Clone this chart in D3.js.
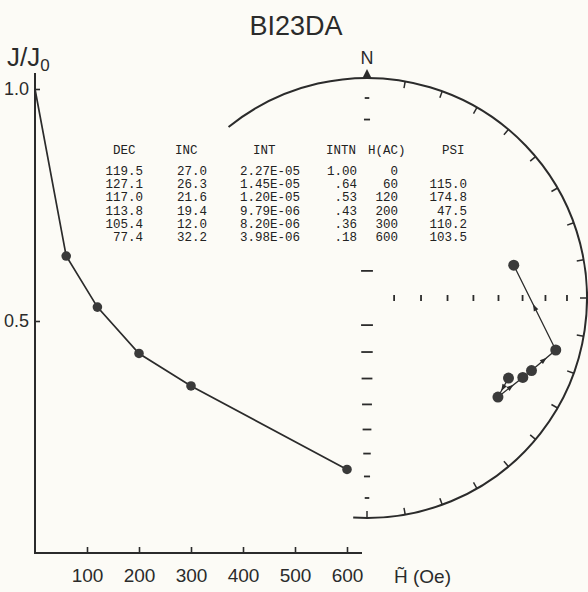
<!DOCTYPE html>
<html>
<head>
<meta charset="utf-8">
<script src="https://cdn.jsdelivr.net/npm/d3@7"></script>
<style>
  body { margin: 0; background: #fcfbf6; }
  svg { display: block; }
  .sans { font-family: "Liberation Sans", Arial, sans-serif; fill: #2b2b2b; }
  .mono { font-family: "Liberation Mono", "DejaVu Sans Mono", monospace; font-size: 12.5px; fill: #222; }
</style>
</head>
<body>
<svg id="chart" width="588" height="592"></svg>
<script>
// AF demagnetisation steps and measured remanence
var fields = [0, 60, 120, 200, 300, 600];
var intn = [1.00, 0.64, 0.53, 0.43, 0.36, 0.18];
var decs = [119.5, 127.1, 117.0, 113.8, 105.4, 77.4];
var incs = [27.0, 26.3, 21.6, 19.4, 12.0, 32.2];
var ints = ['2.27E-05', '1.45E-05', '1.20E-05', '9.79E-06', '8.20E-06', '3.98E-06'];
var psis = ['', '115.0', '174.8', '47.5', '110.2', '103.5'];

var xTicks = [100, 200, 300, 400, 500, 600];
var yTicks = [0.5, 1.0];
var incTicks = [80, 70, 60, 50, 40, 30, 20, 10];
var azTicks = d3.range(10, 190, 10);

var ink = '#2b2b2b';
var svg = d3.select('#chart');

// ---- intensity decay plot ----
var x = d3.scaleLinear().domain([0, 600]).range([35, 347]);
var y = d3.scaleLinear().domain([0, 1]).range([553, 89]);

var xAxis = svg.append('g')
  .attr('transform', 'translate(0,553)')
  .call(d3.axisBottom(x).tickValues(xTicks).tickSizeInner(-6).tickSizeOuter(0).tickPadding(16));
xAxis.select('.domain').remove();
xAxis.selectAll('text').attr('class', 'sans').style('font-size', '19px').attr('font-family', null);

var yAxis = svg.append('g')
  .attr('transform', 'translate(35,0)')
  .call(d3.axisLeft(y).tickValues(yTicks).tickFormat(d3.format('.1f')).tickSizeInner(-5).tickSizeOuter(0).tickPadding(6));
yAxis.select('.domain').remove();
yAxis.selectAll('text').attr('class', 'sans').style('font-size', '18px').attr('font-family', null);

svg.selectAll('.tick line').attr('stroke', ink).attr('stroke-width', 1.6);

// axis lines drawn by hand, they run past the last tick
svg.append('line').attr('x1', 35).attr('x2', 35).attr('y1', 73).attr('y2', 554)
  .attr('stroke', ink).attr('stroke-width', 2);
svg.append('line').attr('x1', 34).attr('x2', 362).attr('y1', 553).attr('y2', 553)
  .attr('stroke', ink).attr('stroke-width', 2);

var line = d3.line()
  .x(function (d, i) { return x(fields[i]); })
  .y(function (d) { return y(d); });

svg.append('path').datum(intn)
  .attr('d', line)
  .attr('fill', 'none').attr('stroke', ink).attr('stroke-width', 1.7);

svg.selectAll('circle.decay').data(intn.slice(1)).enter().append('circle')
  .attr('class', 'decay')
  .attr('cx', function (d, i) { return x(fields[i + 1]); })
  .attr('cy', function (d) { return y(d); })
  .attr('r', 4.8)
  .attr('fill', '#3a3a3a');

// ---- equal-area stereonet ----
var cx = 367, cy = 298, R = 220;
var rScale = d3.scaleSqrt().domain([0, 1]).range([0, R]);
var rad = Math.PI / 180;

function radius(inc) {
  return rScale(1 - Math.sin(inc * rad));
}

function project(dec, inc) {
  var r = radius(inc);
  return [cx + r * Math.sin(dec * rad), cy - r * Math.cos(dec * rad)];
}

// primitive circle, only the part clear of the decay plot
var arc = d3.path();
arc.arc(cx, cy, R, (321 - 90) * rad, (183.6 - 90) * rad + 2 * Math.PI);
svg.append('path').attr('d', arc.toString())
  .attr('fill', 'none').attr('stroke', ink).attr('stroke-width', 2);

svg.selectAll('line.az').data(azTicks).enter().append('line')
  .attr('class', 'az')
  .attr('x1', function (d) { return cx + R * Math.sin(d * rad); })
  .attr('y1', function (d) { return cy - R * Math.cos(d * rad); })
  .attr('x2', function (d) { return cx + (R - 7) * Math.sin(d * rad); })
  .attr('y2', function (d) { return cy - (R - 7) * Math.cos(d * rad); })
  .attr('stroke', ink).attr('stroke-width', 1.5);

// north marker
svg.append('path')
  .attr('d', 'M' + (cx - 5) + ',' + (cy - R + 1) + 'L' + cx + ',' + (cy - R - 9) + 'L' + (cx + 5) + ',' + (cy - R + 1) + 'Z')
  .attr('fill', ink);
svg.append('text').attr('class', 'sans')
  .attr('x', cx).attr('y', cy - R - 14)
  .attr('text-anchor', 'middle').style('font-size', '18px')
  .text('N');

// inclination ticks along N-S and E
function dashLen(inc) {
  return 3 + 9 * Math.sin(inc * rad);
}
[-1, 1].forEach(function (side) {
  svg.selectAll(null).data(incTicks).enter().append('line')
    .attr('x1', function (d) { return cx - dashLen(d) / 2; })
    .attr('x2', function (d) { return cx + dashLen(d) / 2; })
    .attr('y1', function (d) { return cy + side * radius(d); })
    .attr('y2', function (d) { return cy + side * radius(d); })
    .attr('stroke', ink).attr('stroke-width', 1.8);
});
svg.selectAll(null).data(incTicks).enter().append('line')
  .attr('x1', function (d) { return cx + radius(d); })
  .attr('x2', function (d) { return cx + radius(d); })
  .attr('y1', cy - 3)
  .attr('y2', cy + 3)
  .attr('stroke', ink).attr('stroke-width', 1.8);

// path of the remanence direction
var pts = decs.map(function (d, i) { return project(d, incs[i]); });
svg.append('path').datum(pts)
  .attr('d', d3.line())
  .attr('fill', 'none').attr('stroke', ink).attr('stroke-width', 1.3);

d3.pairs(pts).forEach(function (p) {
  var dx = p[1][0] - p[0][0], dy = p[1][1] - p[0][1];
  if (Math.sqrt(dx * dx + dy * dy) < 20) return;
  var a = Math.atan2(dy, dx) / rad;
  svg.append('path')
    .attr('d', 'M4,0L-3,-2.5L-3,2.5Z')
    .attr('transform', 'translate(' + (p[0][0] + dx / 2) + ',' + (p[0][1] + dy / 2) + ') rotate(' + a + ')')
    .attr('fill', ink);
});

svg.selectAll('circle.dir').data(pts).enter().append('circle')
  .attr('class', 'dir')
  .attr('cx', function (d) { return d[0]; })
  .attr('cy', function (d) { return d[1]; })
  .attr('r', 5.5)
  .attr('fill', '#3a3a3a');

// ---- data table, blanks the net underneath ----
svg.append('rect').attr('x', 100).attr('y', 134).attr('width', 380).attr('height', 114)
  .attr('fill', '#fcfbf6');

var headers = ['DEC', 'INC', 'INT', 'INTN', 'H(AC)', 'PSI'];
var headX = [113, 175, 253, 326, 368, 442];
var colRight = [143, 207, 300, 357, 398, 467];
var fmtN = function (v) { return v >= 1 ? v.toFixed(2) : v.toFixed(2).slice(1); };
var cols = [
  decs.map(function (v) { return v.toFixed(1); }),
  incs.map(function (v) { return v.toFixed(1); }),
  ints,
  intn.map(fmtN),
  fields.map(String),
  psis
];

svg.selectAll('text.head').data(headers).enter().append('text')
  .attr('class', 'mono head')
  .attr('x', function (d, i) { return headX[i]; })
  .attr('y', 154)
  .text(function (d) { return d; });

cols.forEach(function (col, c) {
  svg.selectAll(null).data(col).enter().append('text')
    .attr('class', 'mono')
    .attr('x', colRight[c])
    .attr('y', function (d, i) { return 175 + i * 13.2; })
    .attr('text-anchor', 'end')
    .text(function (d) { return d; });
});

// ---- titles ----
svg.append('text').attr('class', 'sans')
  .attr('x', 296).attr('y', 35).attr('text-anchor', 'middle')
  .style('font-size', '27px').text('BI23DA');

var jl = svg.append('text').attr('class', 'sans').attr('x', 7).attr('y', 66).style('font-size', '26px');
jl.append('tspan').text('J/J');
jl.append('tspan').attr('dy', 5).style('font-size', '17px').text('0');

svg.append('text').attr('class', 'sans')
  .attr('x', 394).attr('y', 583).style('font-size', '19px')
  .text('H\u0303 (Oe)');
</script>
</body>
</html>
